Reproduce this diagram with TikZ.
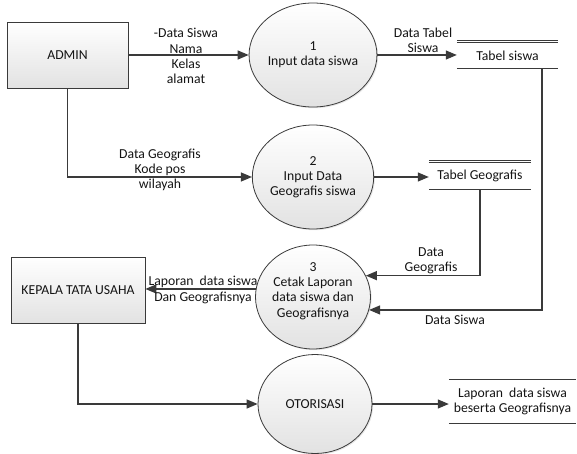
\documentclass[tikz,border=0pt]{standalone}
\usepackage{fontspec}
\setmainfont{Carlito}
\usetikzlibrary{shapes.geometric,arrows.meta,shadows}
\definecolor{ink}{HTML}{3A3A3A}
\definecolor{shade}{HTML}{E2E2E2}
\definecolor{txt}{HTML}{141414}
\begin{document}
\begin{tikzpicture}[x=1pt,y=-1pt,
  every node/.style={font=\fontsize{13.7}{15.2}\selectfont, text=txt},
  entity/.style={draw=ink, line width=0.8pt, top color=white, bottom color=shade,
    drop shadow={shadow xshift=1.2pt, shadow yshift=-1.2pt, opacity=0.25}},
  proc/.style={ellipse, draw=ink, line width=0.8pt, top color=white, bottom color=shade,
    minimum width=115pt, minimum height=104pt, inner sep=0pt, align=center,
    drop shadow={shadow xshift=1.2pt, shadow yshift=-1.2pt, opacity=0.2}},
  store/.style={inner sep=0pt, align=center},
  storeline/.style={draw=ink, line width=0.9pt},
  flow/.style={draw=ink, line width=1.2pt, -{Triangle[length=11pt,width=9pt]}},
  lbl/.style={align=center, inner sep=0pt}]
\useasboundingbox (0,0) rectangle (577,454);

% external entities
\node[entity, minimum width=121pt, minimum height=66pt] (admin) at (67.5,55) {ADMIN};
\node[entity, minimum width=134pt, minimum height=66pt] (kepala) at (78,290) {KEPALA TATA USAHA};

% processes
\node[proc] (p1) at (313,55) {1\\Input data siswa};
\node[proc] (p2) at (313,177) {2\\Input Data\\Geografis siswa};
\node[proc] (p3) at (313,297) {};
\node[lbl] (p3t) at ([yshift=6pt]p3.center) {3\\Cetak Laporan\\data siswa dan\\Geografisnya};
\node[proc, minimum width=114pt, minimum height=99pt] (p4) at (315,404) {OTORISASI};

% data stores
\node[store, minimum width=101pt, minimum height=25pt] (ts) at (507.5,55.5) {Tabel siswa};
\draw[storeline] ([yshift=2pt]ts.north west) -- ([yshift=2pt]ts.north east)
  (ts.north west) -- (ts.north east) (ts.south west) -- (ts.south east);
\node[store, minimum width=102pt, minimum height=26pt] (tg) at (480,176) {Tabel Geografis};
\draw[storeline] ([yshift=2pt]tg.north west) -- ([yshift=2pt]tg.north east)
  (tg.north west) -- (tg.north east) (tg.south west) -- (tg.south east);
\node[store, minimum width=127pt, minimum height=43pt] (rep) at (512.5,401.5)
  {Laporan\ \ data siswa\\beserta Geografisnya};
\draw[storeline] (rep.north west) -- (rep.north east) (rep.south west) -- (rep.south east);

% data flows
\draw[flow] (admin.east) -- (p1.west);
\draw[flow] (admin.south) |- (p2.west);
\draw[flow] (p1.east) -- (p1.east -| ts.west);
\draw[flow] (p2.east) -- (p2.east -| tg.west);
\draw[flow] (tg.south) |- (p3.22);
\draw[flow] ([xshift=34.5pt]ts.south) |- (p3.-13.5);
\draw[flow] (p3.172) -- (p3.172 -| kepala.east);
\draw[flow] (kepala.south) |- (p4.west);
\draw[flow] (p4.east) -- (p4.east -| rep.west);

% flow labels
\node[lbl] (l1) at (186,56) {-Data Siswa\\Nama\\Kelas\\alamat};
\node[lbl] (l2) at (160,170) {Data Geografis\\Kode pos\\wilayah};
\node[lbl] (l3) at (423,40) {Data Tabel\\Siswa};
\node[lbl] (l4) at (431,261) {Data\\Geografis};
\node[lbl] (l5) at (455,320) {Data Siswa};
\node[lbl] (l6) at (203,290) {Laporan\ \ data siswa\\Dan Geografisnya};
\end{tikzpicture}
\end{document}
